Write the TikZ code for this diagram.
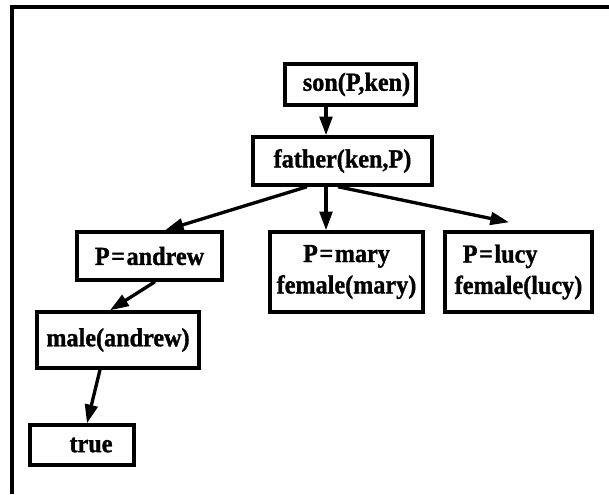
\documentclass[tikz,border=0pt]{standalone}
\usepackage{fontspec}
\setmainfont{Liberation Serif}[BoldFeatures={FakeBold=1.2,FakeStretch=0.93}]
\usetikzlibrary{arrows.meta,calc}
\newcommand{\eqsign}{\kern1.2pt=\kern1.2pt}
\begin{document}
\begin{tikzpicture}[x=0.75pt,y=-0.75pt,
  goal/.style={draw,line width=2.6pt,inner sep=0pt,align=center,
    font=\fontsize{19.5}{23.5}\selectfont\bfseries},
  link/.style={line width=2.5pt,-{Triangle[length=14pt,width=9.5pt]}}]
\useasboundingbox (0,0) rectangle (609,494);
% outer frame (open to the right and bottom)
\draw[line width=2.8pt] (12,494) -- (12,7) -- (609,7);

% goals of the resolution tree
\node[goal,minimum width=98.25pt,minimum height=30.75pt] (son) at (350.5,84.5) {\hspace*{9pt}son(P,ken)};
\node[goal,minimum width=134.25pt,minimum height=36pt] (father) at (342.5,161) {father(ken,P)};
\node[goal,minimum width=108.75pt,minimum height=36pt] (andrew) at (149.5,256) {P\eqsign andrew};
\node[goal,minimum width=114.75pt,minimum height=60pt] (mary) at (346.5,272) {P\eqsign mary\\female(mary)};
\node[goal,minimum width=110.25pt,minimum height=60pt,align=left] (lucy) at (518.5,272) {\hspace*{6pt}P\eqsign lucy\\female(lucy)};
\node[goal,minimum width=121.5pt,minimum height=42pt] (male) at (118,340) {male(andrew)};
\node[goal,minimum width=78pt,minimum height=30pt] (true) at (82,445) {\hspace*{13.5pt}true};

% resolution steps
\draw[link] ($(son.south)+(-24.5,0)$) -- ($(father.north)+(-16.5,0)$);
\draw[link] ($(father.south)+(-35.5,0)$) -- ($(andrew.north)+(15.5,0)$);
\draw[link] ($(father.south)+(-16.5,0)$) -- ($(mary.north)+(-20.5,0)$);
\coordinate (lucyend) at ($(lucy.north)+(-9.5,-8)$);
\draw[link] ($(father.south)+(-4.5,0)$) -- (lucyend);
\draw[link] ($(andrew.south)+(5.5,0)$) -- ($(male.north)+(-8,0)$);
\draw[link] ($(male.south)+(-18,0)$) -- ($(true.north)+(5,0)$);
\end{tikzpicture}
\end{document}
